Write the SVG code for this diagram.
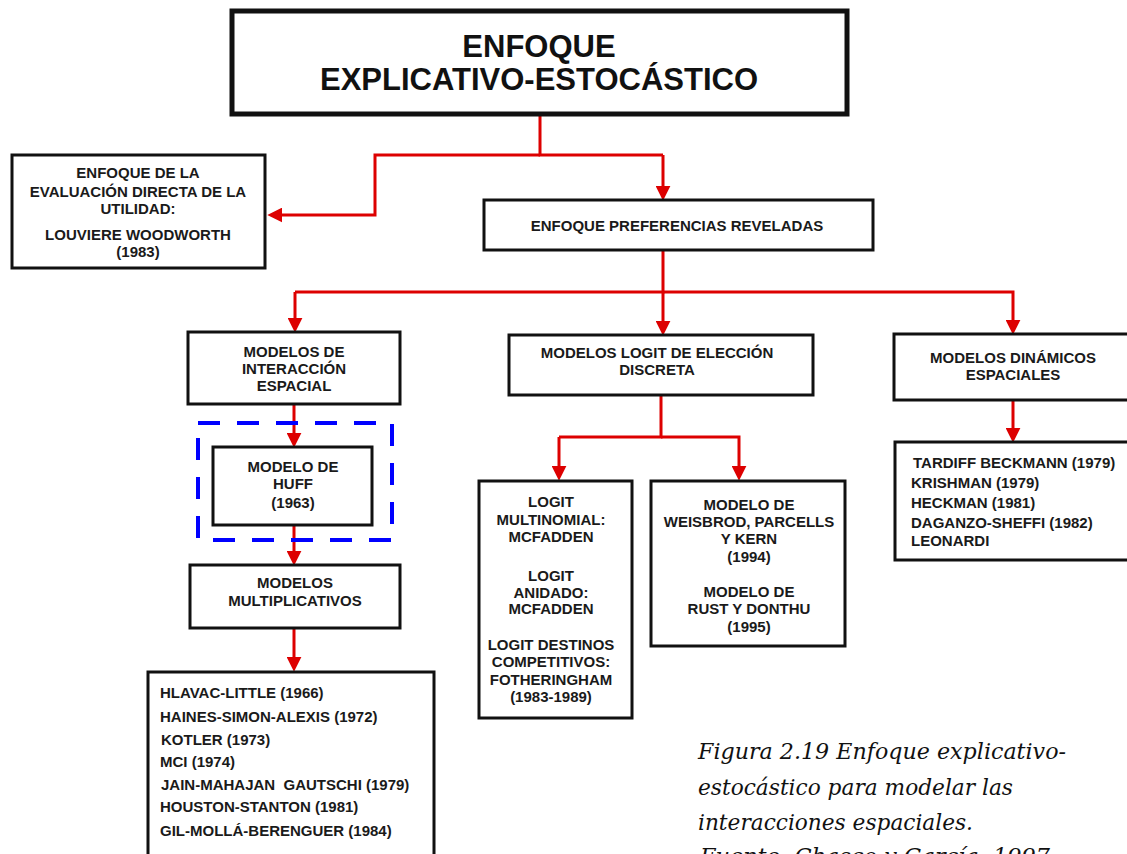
<svg xmlns="http://www.w3.org/2000/svg" width="1127" height="854" viewBox="0 0 1127 854">
  <style>
    .box { fill: #ffffff; stroke: #111111; stroke-width: 3; }
    .title-box { fill: #ffffff; stroke: #111111; stroke-width: 5; }
    .t { font-family: "Liberation Sans", Arial, sans-serif; font-weight: bold; font-size: 15px; fill: #1a1a1a; }
    .c { text-anchor: middle; }
    .title { font-family: "Liberation Sans", Arial, sans-serif; font-weight: bold; font-size: 31px; fill: #111111; text-anchor: middle; }
    .link { fill: none; stroke: #dd0000; stroke-width: 3; marker-end: url(#arrow); }
    .plain { fill: none; stroke: #dd0000; stroke-width: 3; }
    .focus { fill: none; stroke: #0000ff; stroke-width: 4; stroke-dasharray: 22 17; }
    .caption { font-family: "DejaVu Serif", "Liberation Serif", serif; font-style: italic; font-size: 23px; fill: #111111; }
  </style>
  <defs>
    <marker id="arrow" viewBox="0 0 14 14" refX="4" refY="7" markerWidth="15" markerHeight="15" markerUnits="userSpaceOnUse" orient="auto">
      <path d="M0,0 L14,7 L0,14 z" fill="#dd0000"/>
    </marker>
  </defs>
  <rect width="1127" height="854" fill="#ffffff"/>

  <!-- connectors -->
  <g id="connectors">
    <path class="plain" d="M540,115 V155 H663"/>
    <path class="link" d="M540,155 H375 V215 H278"/>
    <path class="link" d="M663,155 V190"/>
    <path class="plain" d="M663,250 V292 H295"/>
    <path class="link" d="M295,292 V322"/>
    <path class="link" d="M663,292 V325"/>
    <path class="link" d="M663,292 H1013 V324"/>
    <path class="plain" d="M661,395 V437 H559"/>
    <path class="link" d="M559,437 V470"/>
    <path class="link" d="M661,437 H739 V470"/>
    <path class="link" d="M294,404 V437"/>
    <path class="link" d="M294,525 V555"/>
    <path class="link" d="M294,628 V661"/>
    <path class="link" d="M1013,400 V432"/>
  </g>

  <g id="enfoque-explicativo">
    <rect class="title-box" x="232" y="11" width="615" height="103"/>
    <text class="title" x="539" y="57">ENFOQUE</text>
    <text class="title" x="539" y="90">EXPLICATIVO-ESTOCÁSTICO</text>
  </g>

  <g id="evaluacion-directa">
    <rect class="box" x="12" y="155" width="253" height="113"/>
    <text class="t c" x="138" y="178">ENFOQUE DE LA</text>
    <text class="t c" x="138" y="197">EVALUACIÓN DIRECTA DE LA</text>
    <text class="t c" x="138" y="214">UTILIDAD:</text>
    <text class="t c" x="138" y="240">LOUVIERE WOODWORTH</text>
    <text class="t c" x="138" y="257">(1983)</text>
  </g>

  <g id="preferencias-reveladas">
    <rect class="box" x="484" y="200" width="389" height="50"/>
    <text class="t c" x="677" y="231">ENFOQUE PREFERENCIAS REVELADAS</text>
  </g>

  <g id="interaccion-espacial">
    <rect class="box" x="188" y="332" width="212" height="72"/>
    <text class="t c" x="294" y="357">MODELOS DE</text>
    <text class="t c" x="294" y="374">INTERACCIÓN</text>
    <text class="t c" x="294" y="391">ESPACIAL</text>
  </g>

  <g id="logit-eleccion-discreta">
    <rect class="box" x="509" y="335" width="304" height="60"/>
    <text class="t c" x="657" y="358">MODELOS LOGIT DE ELECCIÓN</text>
    <text class="t c" x="657" y="375">DISCRETA</text>
  </g>

  <g id="dinamicos-espaciales">
    <rect class="box" x="894" y="334" width="240" height="66"/>
    <text class="t c" x="1013" y="363">MODELOS DINÁMICOS</text>
    <text class="t c" x="1013" y="380">ESPACIALES</text>
  </g>

  <g id="modelo-huff">
    <rect class="focus" x="198" y="423" width="194" height="117"/>
    <rect class="box" x="213" y="447" width="159" height="78"/>
    <text class="t c" x="293" y="472">MODELO DE</text>
    <text class="t c" x="293" y="489">HUFF</text>
    <text class="t c" x="293" y="508">(1963)</text>
  </g>

  <g id="multiplicativos">
    <rect class="box" x="190" y="565" width="210" height="63"/>
    <text class="t c" x="295" y="588">MODELOS</text>
    <text class="t c" x="295" y="606">MULTIPLICATIVOS</text>
  </g>

  <g id="lista-multiplicativos">
    <rect class="box" x="148" y="672" width="286" height="190"/>
    <text class="t" x="160" y="698">HLAVAC-LITTLE (1966)</text>
    <text class="t" x="160" y="722">HAINES-SIMON-ALEXIS (1972)</text>
    <text class="t" x="161" y="745">KOTLER (1973)</text>
    <text class="t" x="160" y="767">MCI (1974)</text>
    <text class="t" x="161" y="790" style="white-space: pre">JAIN-MAHAJAN  GAUTSCHI (1979)</text>
    <text class="t" x="160" y="812">HOUSTON-STANTON (1981)</text>
    <text class="t" x="160" y="836">GIL-MOLLÁ-BERENGUER (1984)</text>
  </g>

  <g id="logit-variantes">
    <rect class="box" x="479" y="481" width="153" height="237"/>
    <text class="t c" x="551" y="507">LOGIT</text>
    <text class="t c" x="551" y="525">MULTINOMIAL:</text>
    <text class="t c" x="551" y="542">MCFADDEN</text>
    <text class="t c" x="551" y="581">LOGIT</text>
    <text class="t c" x="551" y="598">ANIDADO:</text>
    <text class="t c" x="551" y="614">MCFADDEN</text>
    <text class="t c" x="551" y="650">LOGIT DESTINOS</text>
    <text class="t c" x="551" y="667">COMPETITIVOS:</text>
    <text class="t c" x="551" y="685">FOTHERINGHAM</text>
    <text class="t c" x="551" y="702">(1983-1989)</text>
  </g>

  <g id="weisbrod-rust">
    <rect class="box" x="651" y="481" width="194" height="165"/>
    <text class="t c" x="749" y="510">MODELO DE</text>
    <text class="t c" x="749" y="527">WEISBROD, PARCELLS</text>
    <text class="t c" x="749" y="544">Y KERN</text>
    <text class="t c" x="749" y="562">(1994)</text>
    <text class="t c" x="749" y="597">MODELO DE</text>
    <text class="t c" x="749" y="614">RUST Y DONTHU</text>
    <text class="t c" x="749" y="632">(1995)</text>
  </g>

  <g id="lista-dinamicos">
    <rect class="box" x="895" y="442" width="240" height="118"/>
    <text class="t" x="913" y="468">TARDIFF BECKMANN (1979)</text>
    <text class="t" x="911" y="488">KRISHMAN (1979)</text>
    <text class="t" x="911" y="508">HECKMAN (1981)</text>
    <text class="t" x="911" y="528">DAGANZO-SHEFFI (1982)</text>
    <text class="t" x="911" y="546">LEONARDI</text>
  </g>

  <g id="pie-de-figura">
    <text class="caption" x="698" y="759" textLength="368" lengthAdjust="spacingAndGlyphs">Figura 2.19 Enfoque explicativo-</text>
    <text class="caption" x="698" y="795" textLength="315" lengthAdjust="spacingAndGlyphs">estocástico para modelar las</text>
    <text class="caption" x="698" y="830" textLength="275" lengthAdjust="spacingAndGlyphs">interacciones espaciales.</text>
    <text class="caption" x="700" y="864" textLength="350" lengthAdjust="spacingAndGlyphs">Fuente: Chasco y García, 1997</text>
  </g>
</svg>
